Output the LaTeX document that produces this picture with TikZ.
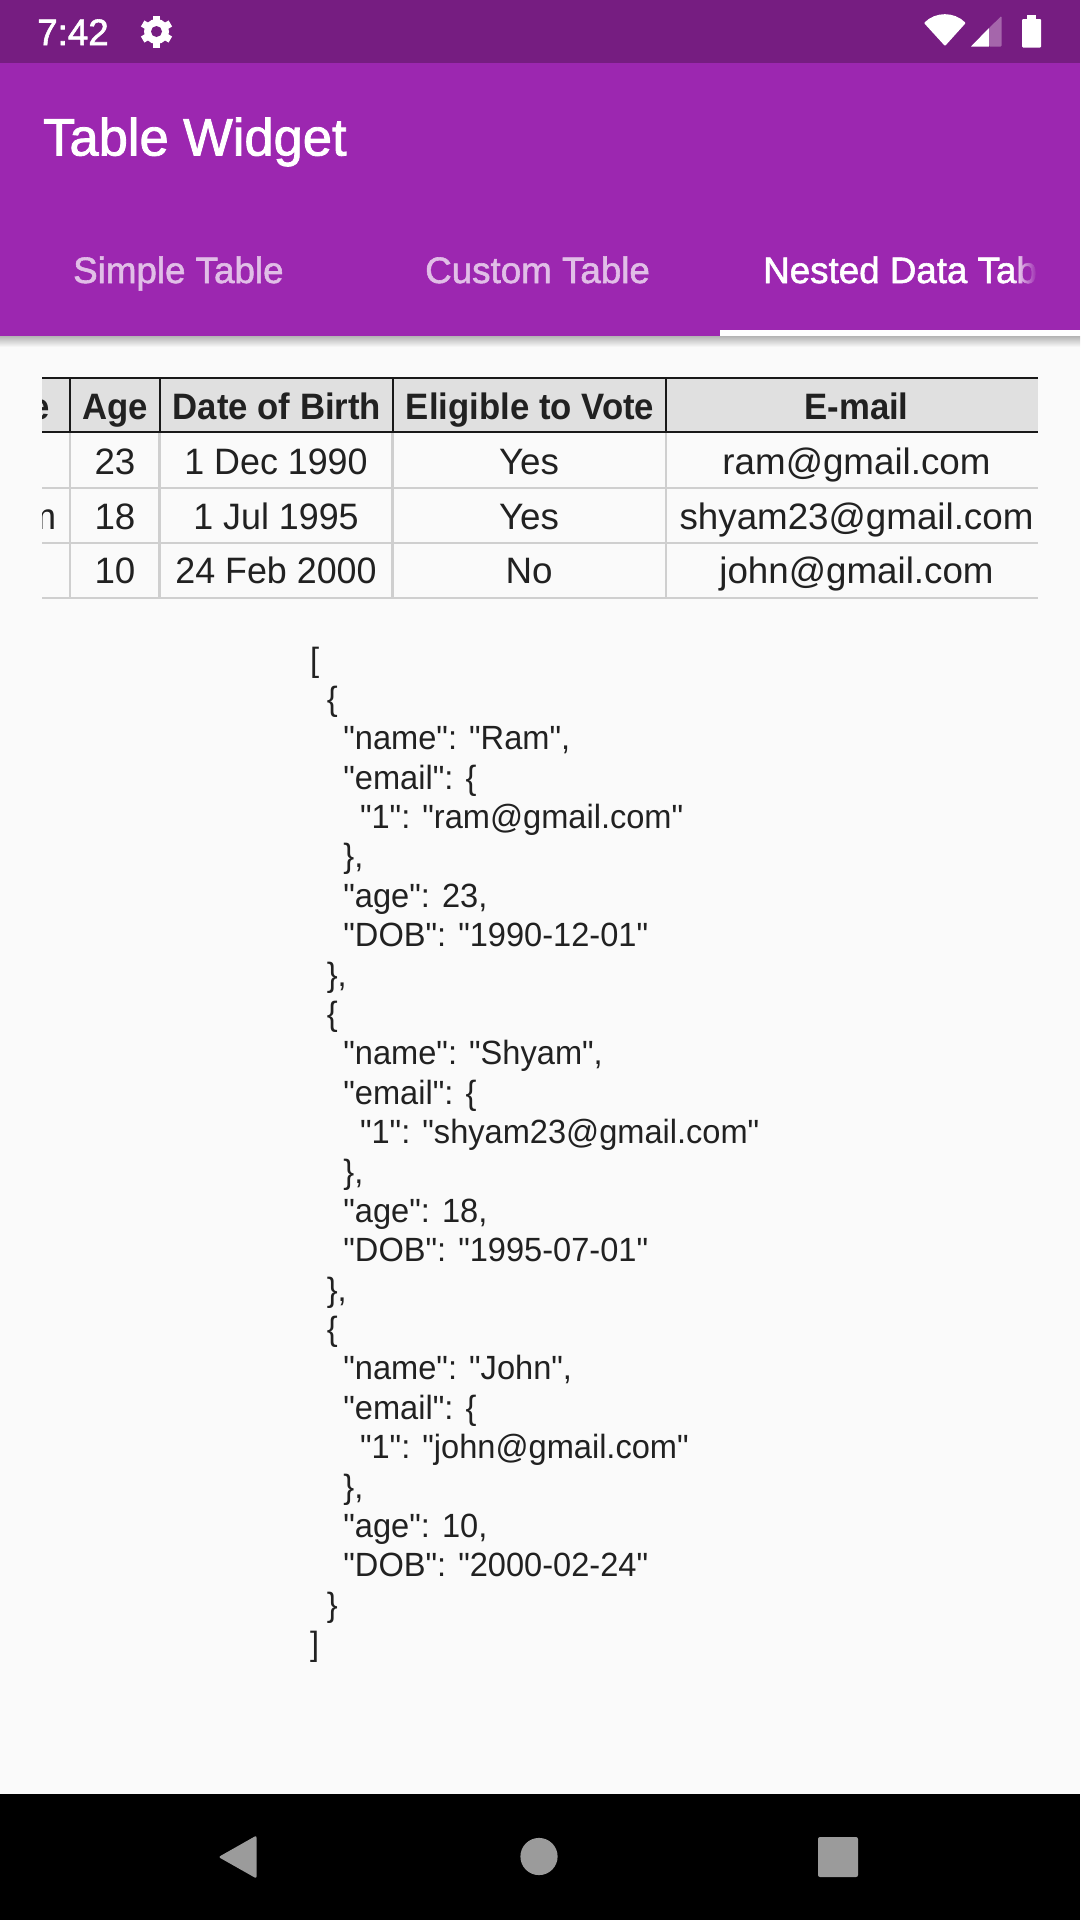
\documentclass[tikz,border=0pt]{standalone}
\usepackage{fontspec}
\defaultfontfeatures[\rmfamily]{}
\setmainfont{Liberation Sans}
\newfontfamily\mediumfont{Liberation Sans}[FakeBold=1.6]
\newfontfamily\headfont{Liberation Sans}[FakeStretch=0.945]
\newfontfamily\jsonfont{Liberation Sans}[FakeStretch=0.97]
\newfontfamily\datefont{Liberation Sans}[FakeStretch=0.975]
\usetikzlibrary{fadings}
\definecolor{statuscol}{HTML}{761D81}
\definecolor{barcol}{HTML}{9C27B0}
\definecolor{pagecol}{HTML}{FAFAFA}
\definecolor{headcol}{HTML}{E0E0E0}
\definecolor{gridcol}{HTML}{CFCFCF}
\definecolor{inkcol}{HTML}{212121}
\definecolor{softcol}{HTML}{E1BEE7}
\definecolor{signalcol}{HTML}{A566AB}
\definecolor{navcol}{HTML}{9B9B9B}
\newcommand{\fsize}[1]{\fontsize{#1}{#1}\selectfont}
\newcommand{\ind}[1]{\hspace*{#1\dimexpr16.6pt\relax}}
\tikzset{
  celltext/.style={inner sep=0pt,anchor=base,text=inkcol,font=\fsize{36.75}},
  headtext/.style={celltext,font=\headfont\fsize{36.75}\bfseries},
  tabtext/.style={inner sep=0pt,anchor=base west,font=\mediumfont\fsize{36.75}},
}

\begin{document}
\begin{tikzpicture}[x=1pt,y=-1pt]
  \useasboundingbox (0,0) rectangle (1080,1920);
  \fill[pagecol] (0,0) rectangle (1080,1920);

  %% app bar
  %% ------------------------------------
  \shade[top color=black!28!pagecol,bottom color=pagecol] (0,336) rectangle (1080,347);
  \fill[barcol]    (0,63) rectangle (1080,336);
  \fill[statuscol] (0,0)  rectangle (1080,63);
  \fill[white]     (720,330) rectangle (1080,336);
  \node[inner sep=0pt,anchor=base west,text=white,font=\mediumfont\fsize{36.75}] (clock) at (37,45) {7:42};
  \node[inner sep=0pt,anchor=base west,text=white,font=\mediumfont\fsize{52.5}] (title) at (43,155.5) {Table Widget};
  \node[tabtext,text=softcol] (tabsimple) at (73,283) {Simple Table};
  \node[tabtext,text=softcol] (tabcustom) at (425,283) {Custom Table};
  \begin{scope}
    \clip (720,240) rectangle (1037,320);
    \node[tabtext,text=white] (tabnested) at (763,283) {Nested Data Table};
    \fill[barcol,path fading=west] (1012,240) rectangle (1037,320);
  \end{scope}

  %% status icons
  %% ------------------------------------
  \coordinate (gear) at (156.5,31.5);
  \foreach \ang in {0,60,...,300}
    \fill[white,rotate around={\ang:(gear)}] (153,15.5) rectangle (160,25);
  \fill[white]     (gear) circle (12.5);
  \fill[statuscol] (gear) circle (5.5);
  %% wifi
  \fill[white,rounded corners=1pt] (945,46) -- (924,23) arc (-135:-45:29.5) -- cycle;
  %% signal
  \fill[white]     (971,46.5) -- (989,46.5) -- (989,28) -- cycle;
  \fill[signalcol,rounded corners=1pt] (989,46.5) -- (1001.5,46.5) -- (1001.5,16) -- (989,28) -- cycle;
  %% battery
  \fill[white,rounded corners=1pt] (1022,19) rectangle (1041,47.5);
  \fill[white] (1027,14.5) rectangle (1036,20);

  %% table
  %% ------------------------------------
  \pgfmathsetmacro{\tleft}{42}  \pgfmathsetmacro{\tright}{1038}
  \pgfmathsetmacro{\ttop}{378}  \pgfmathsetmacro{\thead}{432}
  \fill[headcol] (\tleft,\ttop) rectangle (\tright,\thead);
  %% grid
  \foreach \yy in {488,543,598}
    \draw[gridcol,line width=2.6pt] (\tleft,\yy) -- (\tright,\yy);
  \foreach \xx in {70,159.5,392.5,666}
    \draw[gridcol,line width=2.2pt] (\xx,\thead) -- (\xx,598);
  \foreach \xx in {70,159.5,392.5,666}
    \draw[black!90,line width=2pt] (\xx,\ttop) -- (\xx,\thead);
  \draw[black!90,line width=1.8pt] (\tleft,\ttop) -- (\tright,\ttop);
  \draw[black!90,line width=2pt]   (\tleft,\thead) -- (\tright,\thead);
  %% clipped first column
  \begin{scope}
    \clip (\tleft,\ttop) rectangle (\tright,600);
    \node[headtext,anchor=base east] (hlast) at (50,419) {e};
    \node[celltext,anchor=base east] (clast) at (56.5,529) {m};
  \end{scope}
  %% header row
  \foreach \nm/\xx/\txt in {age/115.5/Age,dob/277/Date of Birth,vote/530/Eligible to Vote,mail/856.5/E-mail}
    \node[headtext] (h\nm) at (\xx,419) {\txt};
  %% data rows
  \foreach \rr/\yy/\aa/\dd/\vv/\mm in {
      1/474/23/1 Dec 1990/Yes/ram@gmail.com,
      2/529/18/1 Jul 1995/Yes/shyam23@gmail.com,
      3/583.5/10/24 Feb 2000/No/john@gmail.com}{
    \node[celltext] (age\rr)  at (115,\yy) {\aa};
    \node[celltext] (dob\rr)  at (276,\yy)   {\datefont\dd};
    \node[celltext] (vote\rr) at (529,\yy)   {\vv};
    \node[celltext] (mail\rr) at (856.5,\yy) {\mm};
  }

  %% json text
  %% ------------------------------------
  \node[inner sep=0pt,anchor=north west,align=left,text=inkcol,
        font=\jsonfont\fontsize{33.6}{39.38}\selectfont] (json) at (310,646.5) {%
    [\\
    \ind{1}\{\\
    \ind{2}"name": "Ram",\\
    \ind{2}"email": \{\\
    \ind{3}"1": "ram@gmail.com"\\
    \ind{2}\},\\
    \ind{2}"age": 23,\\
    \ind{2}"DOB": "1990-12-01"\\
    \ind{1}\},\\
    \ind{1}\{\\
    \ind{2}"name": "Shyam",\\
    \ind{2}"email": \{\\
    \ind{3}"1": "shyam23@gmail.com"\\
    \ind{2}\},\\
    \ind{2}"age": 18,\\
    \ind{2}"DOB": "1995-07-01"\\
    \ind{1}\},\\
    \ind{1}\{\\
    \ind{2}"name": "John",\\
    \ind{2}"email": \{\\
    \ind{3}"1": "john@gmail.com"\\
    \ind{2}\},\\
    \ind{2}"age": 10,\\
    \ind{2}"DOB": "2000-02-24"\\
    \ind{1}\}\\
    ]};

  %% navigation bar
  %% ------------------------------------
  \fill[black] (0,1794) rectangle (1080,1920);
  \fill[navcol,rounded corners=2pt] (256.5,1835.5) -- (218.5,1857) -- (256.5,1878.5) -- cycle;
  \fill[navcol] (539,1856.5) circle (18.6);
  \fill[navcol,rounded corners=2pt] (818,1837) rectangle (858,1877);
\end{tikzpicture}
\end{document}
